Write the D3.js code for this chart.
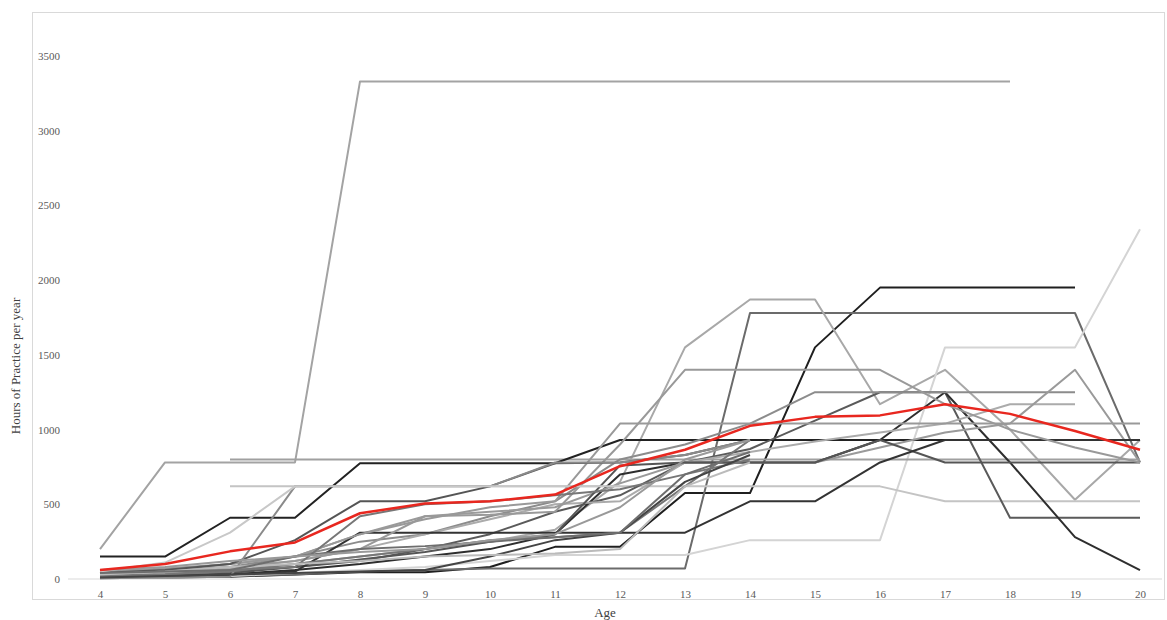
<!DOCTYPE html>
<html>
<head>
<meta charset="utf-8">
<script src="https://cdn.jsdelivr.net/npm/d3@7"></script>
<style>
  body { margin: 0; background: #fff; }
  text { font-family: "Liberation Serif", serif; }
</style>
</head>
<body>
<div id="chart"></div>
<script>
// Ages on the x axis, y ticks
const ages = [4, 5, 6, 7, 8, 9, 10, 11, 12, 13, 14, 15, 16, 17, 18, 19, 20];
const yTicks = [0, 500, 1000, 1500, 2000, 2500, 3000, 3500];

// Hours of practice per year, one row per player (ages 4..20), null = no data
const playerHours = [
  [200, 780, 780, 780, 3330, 3330, 3330, 3330, 3330, 3330, 3330, 3330, 3330, 3330, 3330, null, null],
  [10, 10, 15, 30, 45, 45, 80, 215, 215, 575, 575, 1550, 1950, 1950, 1950, 1950, null],
  [5, 10, 20, 30, 50, 60, 70, 70, 70, 70, 1780, 1780, 1780, 1780, 1780, 1780, 780],
  [30, 45, 60, 100, 150, 200, 250, 330, 650, 1550, 1870, 1870, 1170, 1400, 1000, 530, 930],
  [5, 10, 20, 40, 60, 80, 120, 160, 160, 160, 260, 260, 260, 1550, 1550, 1550, 2340],
  [null, null, 620, 620, 620, 620, 620, 620, 620, 620, 620, 620, 620, 520, 520, 520, 520],
  [null, null, 800, 800, 800, 800, 800, 800, 800, 800, 800, 800, 800, 800, 800, 800, 800],
  [150, 150, 410, 410, 775, 775, 775, 775, 930, 930, 930, 930, 930, 930, 930, 930, 930],
  [20, 30, 50, 80, 120, 200, 300, 450, 560, 780, 870, 1060, 1250, 1250, 410, 410, 410],
  [10, 15, 30, 60, 100, 150, 200, 300, 700, 780, 780, 780, 930, 1250, 780, 280, 60],
  [30, 50, 80, 150, 250, 300, 420, 520, 800, 900, 1040, 1250, 1250, 1250, 1250, 1250, null],
  [20, 40, 70, 120, 200, 300, 400, 500, 520, 780, 850, 920, 980, 1040, 1170, 1170, null],
  [40, 60, 100, 150, 300, 420, 450, 480, 640, 780, 780, 780, 880, 980, 1040, 1400, 780],
  [10, 20, 40, 80, 130, 180, 250, 300, 760, 780, 780, 780, 930, 780, 780, 780, 780],
  [15, 20, 30, 50, 310, 310, 310, 310, 310, 310, 520, 520, 780, 930, 930, 930, 930],
  [40, 60, 80, 120, 200, 420, 430, 450, 900, 1400, 1400, 1400, 1400, 1170, 1000, 880, 780],
  [50, 70, 100, 150, 300, 400, 480, 520, 1040, 1040, 1040, 1040, 1040, 1040, 1040, 1040, 1040],
  [40, 60, 100, 260, 520, 520, 620, 775, 780, 830, 930, null, null, null, null, null, null],
  [20, 30, 60, 80, 420, 500, 520, 560, 600, 700, 800, null, null, null, null, null, null],
  [5, 10, 15, 620, 620, 620, 620, 780, 780, 830, 930, null, null, null, null, null, null],
  [50, 110, 310, 620, 620, 620, 620, 620, 620, null, null, null, null, null, null, null, null],
  [20, 30, 50, 100, 150, 200, 260, 280, 310, 620, 930, null, null, null, null, null, null],
  [10, 20, 30, 40, 50, 60, 150, 260, 310, 650, 830, null, null, null, null, null, null],
  [30, 50, 80, 100, 120, 150, 160, 170, 200, 620, 780, null, null, null, null, null, null],
  [40, 50, 60, 150, 200, 220, 250, 280, 310, 700, 850, null, null, null, null, null, null],
  [60, 80, 120, 150, 180, 200, 260, 300, 480, 800, 930, null, null, null, null, null, null]
];

// Group mean
const meanHours = [60, 100, 185, 245, 440, 505, 520, 565, 755, 865, 1025, 1085, 1095, 1170, 1105, 990, 865];

// grey shade per player line
const shades = ["#a3a3a3", "#1f1f1f", "#6b6b6b", "#a8a8a8", "#d4d4d4", "#c4c4c4", "#a0a0a0", "#222222",
  "#5a5a5a", "#2e2e2e", "#8c8c8c", "#ababab", "#9a9a9a", "#555555", "#333333", "#999999", "#999999",
  "#555555", "#777777", "#8a8a8a", "#c8c8c8", "#777777", "#444444", "#bbbbbb", "#6e6e6e", "#999999"];

const W = 1167, H = 620;

const svg = d3.select("#chart")
    .append("svg")
    .attr("width", W)
    .attr("height", H);

// outer frame
svg.append("rect")
    .attr("x", 32.5).attr("y", 12.5)
    .attr("width", 1132).attr("height", 587)
    .attr("fill", "none")
    .attr("stroke", "#d9d9d9");

const x = d3.scaleLinear().domain([4, 20]).range([100, 1140]);
const y = d3.scaleLinear().domain([0, 3500]).range([579, 56]);

// x baseline
svg.append("line")
    .attr("x1", 68).attr("x2", 1162)
    .attr("y1", y(0)).attr("y2", y(0))
    .attr("stroke", "#d9d9d9");

// x axis labels
const xAxis = svg.append("g")
    .attr("transform", `translate(0,${y(0)})`)
    .call(d3.axisBottom(x).tickValues(ages).tickFormat(d3.format("d")).tickSize(0).tickPadding(11));
xAxis.select(".domain").remove();
xAxis.selectAll("text")
    .attr("font-family", "Liberation Serif")
    .attr("font-size", 11)
    .attr("fill", "#595959");

// y axis labels
const yAxis = svg.append("g")
    .attr("transform", "translate(60,0)")
    .call(d3.axisLeft(y).tickValues(yTicks).tickFormat(d3.format("d")).tickSize(0).tickPadding(0));
yAxis.select(".domain").remove();
yAxis.selectAll("text")
    .attr("font-family", "Liberation Serif")
    .attr("font-size", 11)
    .attr("fill", "#595959");

// axis titles
svg.append("text")
    .attr("x", 605).attr("y", 617)
    .attr("text-anchor", "middle")
    .attr("font-size", 13)
    .attr("fill", "#404040")
    .text("Age");

svg.append("text")
    .attr("transform", "translate(20,366) rotate(-90)")
    .attr("text-anchor", "middle")
    .attr("font-size", 13)
    .attr("fill", "#404040")
    .text("Hours of Practice per year");

const line = d3.line()
    .defined(d => d != null)
    .x((d, i) => x(ages[i]))
    .y(d => y(d));

// player lines
svg.append("g")
    .selectAll("path")
    .data(playerHours)
    .enter()
    .append("path")
    .attr("d", line)
    .attr("fill", "none")
    .attr("stroke", (d, i) => shades[i])
    .attr("stroke-width", 2)
    .attr("stroke-linejoin", "round");

// mean line on top
svg.append("path")
    .datum(meanHours)
    .attr("d", line)
    .attr("fill", "none")
    .attr("stroke", "#e8271f")
    .attr("stroke-width", 2.5)
    .attr("stroke-linejoin", "round");
</script>
</body>
</html>
